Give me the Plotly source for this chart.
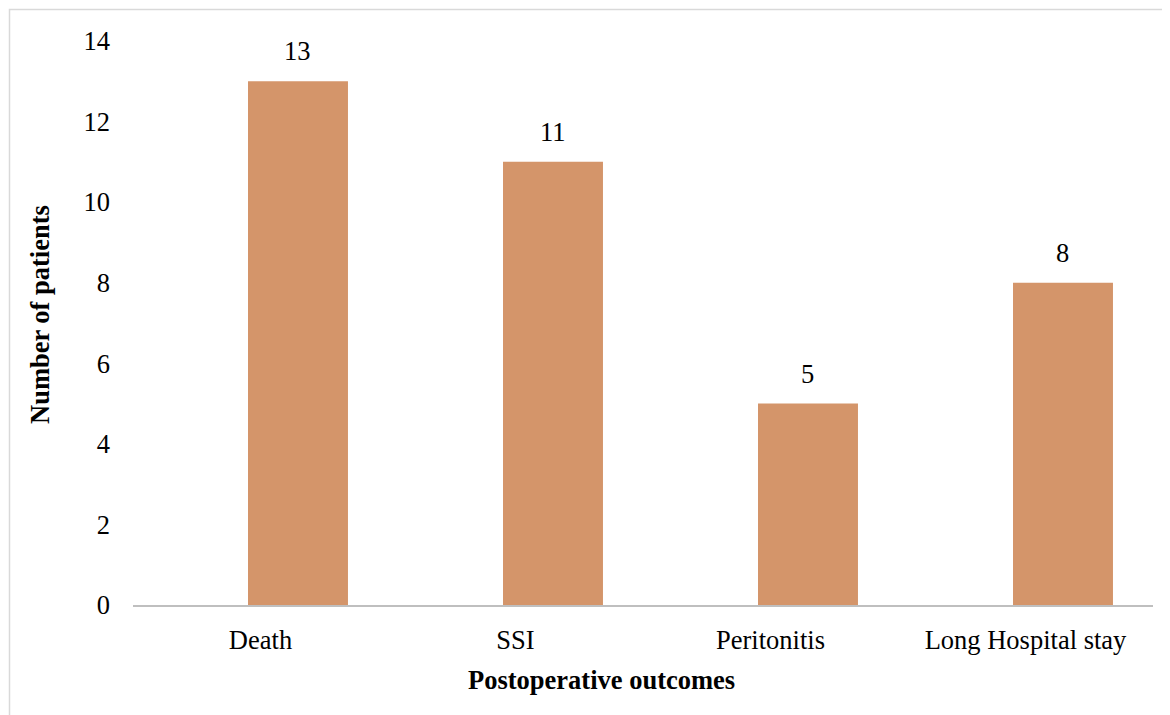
import plotly.graph_objects as go

categories = ["Death", "SSI", "Peritonitis", "Long Hospital stay"]
patients = [13, 11, 5, 8]
y_ticks = [0, 2, 4, 6, 8, 10, 12, 14]

W, H = 1170, 715
OFF = 8  # page body offset
L, R, T = 133 - OFF, 1170 - (1153 - OFF), 41 - OFF
B = H - (605 - OFF)
pw, ph = W - L - R, H - T - B
slot = pw / len(categories)

def px_x(x):
    return (x - OFF - L) / pw

def px_y(y):
    return (H - B - (y - OFF)) / ph

FONT = "Liberation Serif, Times New Roman, serif"
FS = 26.5
BAR = "#D4956A"
BAR_W = 0.392
BAR_OFF = -0.049

fig = go.Figure()
fig.add_trace(go.Bar(x=categories, y=patients, marker_color=BAR, marker_line_width=0,
                     width=BAR_W, offset=BAR_OFF, showlegend=False))

for c, v in zip(categories, patients):
    fig.add_annotation(x=c, y=v, text=str(v), showarrow=False, yanchor="middle",
                       xshift=(BAR_OFF + BAR_W / 2) * slot, yshift=30,
                       font=dict(family=FONT, size=FS, color="black"))

fig.add_annotation(xref="paper", yref="paper", x=px_x(40), y=px_y(315), text="<b>Number of patients</b>",
                   textangle=-90, showarrow=False, xanchor="center", yanchor="middle",
                   font=dict(family=FONT, size=FS, color="black"))
fig.add_annotation(xref="paper", yref="paper", x=px_x(601), y=px_y(680), text="<b>Postoperative outcomes</b>",
                   showarrow=False, xanchor="center", yanchor="middle",
                   font=dict(family=FONT, size=FS, color="black"))

fig.add_shape(type="rect", xref="paper", yref="paper",
              x0=px_x(9.5), y0=px_y(760), x1=px_x(1200), y1=px_y(9.5),
              line=dict(color="#D9D9D9", width=1.5), fillcolor="rgba(0,0,0,0)", layer="below")

fig.update_layout(
    width=W, height=H,
    margin=dict(l=L, r=R, t=T, b=B),
    paper_bgcolor="white", plot_bgcolor="white",
    font=dict(family=FONT, size=FS, color="black"),
    xaxis=dict(showline=True, linecolor="#BFBFBF", linewidth=2, ticks="", showgrid=False,
               tickfont=dict(family=FONT, size=FS, color="black"), ticklabelstandoff=10,
               range=[-0.5, 3.5]),
    yaxis=dict(range=[0, 14], tickvals=y_ticks, showgrid=False, zeroline=False, showline=False,
               ticks="", tickfont=dict(family=FONT, size=FS, color="black"), ticklabelstandoff=22),
)

fig.write_html("out.html")
